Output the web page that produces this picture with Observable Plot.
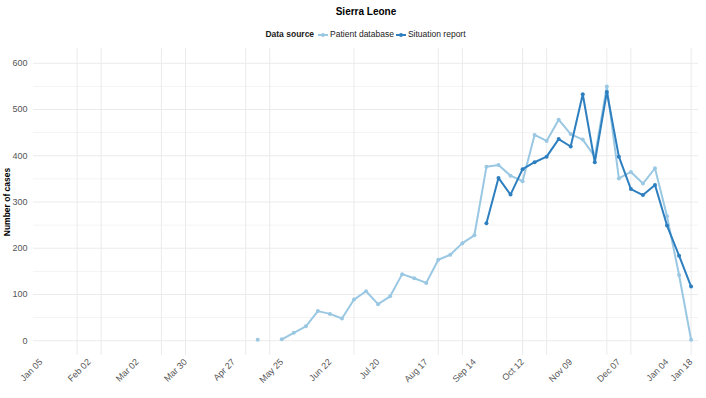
<!DOCTYPE html>
<html>
<head>
<meta charset="utf-8">
<script src="https://cdn.jsdelivr.net/npm/d3@7"></script>
<script src="https://cdn.jsdelivr.net/npm/@observablehq/plot@0.6"></script>
<style>
  html, body { margin: 0; padding: 0; background: #fff; }
  body { width: 706px; height: 398px; overflow: hidden; font-family: "Liberation Sans", Arial, sans-serif; }
  #header { position: relative; width: 706px; height: 44px; }
  #title { position: absolute; left: 0; width: 732px; top: 6px; text-align: center; font-size: 10px; font-weight: bold; color: #000; }
  #legend { position: absolute; left: 0; width: 732px; top: 29px; text-align: center; font-size: 8.5px; color: #1a1a1a; white-space: nowrap; }
  #legend b { font-weight: bold; margin-right: 3px; }
  #legend svg { vertical-align: middle; margin: 0 2px 0 1px; }
  #legend span { margin-right: 1px; }
</style>
</head>
<body>
<div id="header">
  <div id="title">Sierra Leone</div>
  <div id="legend"></div>
</div>
<div id="chart"></div>
<script>
// ---- data ----
const patientDates = ["2014-05-11","2014-05-18","2014-05-25","2014-06-01","2014-06-08","2014-06-15","2014-06-22","2014-06-29",
  "2014-07-06","2014-07-13","2014-07-20","2014-07-27","2014-08-03","2014-08-10","2014-08-17","2014-08-24","2014-08-31",
  "2014-09-07","2014-09-14","2014-09-21","2014-09-28","2014-10-05","2014-10-12","2014-10-19","2014-10-26","2014-11-02",
  "2014-11-09","2014-11-16","2014-11-23","2014-11-30","2014-12-07","2014-12-14","2014-12-21","2014-12-28","2015-01-04",
  "2015-01-11","2015-01-18"];
const patientCases = [2, null, 3, 17, 31, 64, 58, 48,
  89, 107, 79, 96, 144, 135, 125, 175, 186,
  211, 228, 376, 380, 357, 345, 445, 432, 478,
  447, 435, 398, 550, 351, 365, 340, 373, 269,
  142, 2];

const sitrepDates = ["2014-09-21","2014-09-28","2014-10-05","2014-10-12","2014-10-19","2014-10-26","2014-11-02","2014-11-09",
  "2014-11-16","2014-11-23","2014-11-30","2014-12-07","2014-12-14","2014-12-21","2014-12-28","2015-01-04","2015-01-11","2015-01-18"];
const sitrepCases = [254, 352, 316, 371, 386, 398, 436, 420,
  533, 386, 538, 398, 328, 315, 337, 249, 184, 117];

const xTickLabels = ["2014-01-05","2014-02-02","2014-03-02","2014-03-30","2014-04-27","2014-05-25","2014-06-22","2014-07-20",
  "2014-08-17","2014-09-14","2014-10-12","2014-11-09","2014-12-07","2015-01-04","2015-01-18"];
const xGridDates = ["2014-01-26","2014-02-09","2014-03-16","2014-03-30","2014-05-04","2014-05-18","2014-07-06","2014-08-24",
  "2014-09-07","2014-10-12","2014-10-26","2014-11-30","2014-12-14","2015-01-18"];
const yTicks = [0, 100, 200, 300, 400, 500, 600];
const yMinor = [50, 150, 250, 350, 450, 550];

const seriesNames = ["Patient database", "Situation report"];
const seriesColors = ["#9ac8e3", "#2e7fbf"];

// ---- build tables ----
const parse = d3.utcParse("%Y-%m-%d");
const patient = patientDates.map((d, i) => ({date: parse(d), cases: patientCases[i] == null ? NaN : patientCases[i]}));
const sitrep = sitrepDates.map((d, i) => ({date: parse(d), cases: sitrepCases[i]}));
const tickDates = xTickLabels.map(parse);
const gridDates = xGridDates.map(parse);

const day = 864e5;
const xDomain = [new Date(parse("2014-01-05") - 4.36 * day), new Date(+parse("2015-01-18") + 4.3 * day)];

const chart = Plot.plot({
  width: 706,
  height: 354,
  marginLeft: 33,
  marginRight: 8,
  marginTop: 4,
  marginBottom: 43,
  style: {fontFamily: "Liberation Sans, Arial, sans-serif", background: "#fff"},
  x: {type: "utc", domain: xDomain},
  y: {domain: [-32, 632]},
  marks: [
    Plot.ruleY(yMinor, {stroke: "#f4f4f4", strokeWidth: 1}),
    Plot.ruleY(yTicks, {stroke: "#ebebeb", strokeWidth: 1}),
    Plot.ruleX(gridDates, {stroke: "#ebebeb", strokeWidth: 1}),
    Plot.axisY({ticks: yTicks, tickSize: 0, tickPadding: 6, label: null, fontSize: 9, color: "#555"}),
    Plot.axisX({ticks: tickDates, tickFormat: d3.utcFormat("%b %d"), tickRotate: -45, tickSize: 0, tickPadding: 5, label: null, fontSize: 9, color: "#555"}),
    Plot.text([seriesNames[0]], {frameAnchor: "left", textAnchor: "middle", text: () => "Number of cases", rotate: -90, dx: -26, fontWeight: "bold", fontSize: 8.5, fill: "#000"}),
    Plot.line(patient, {x: "date", y: "cases", stroke: seriesColors[0], strokeWidth: 2}),
    Plot.dot(patient.filter(d => !isNaN(d.cases)), {x: "date", y: "cases", r: 2, fill: seriesColors[0]}),
    Plot.line(sitrep, {x: "date", y: "cases", stroke: seriesColors[1], strokeWidth: 2}),
    Plot.dot(sitrep, {x: "date", y: "cases", r: 2, fill: seriesColors[1]})
  ]
});
document.getElementById("chart").appendChild(chart);

// ---- legend ----
const legend = document.getElementById("legend");
let html = "<b>Data source</b>";
seriesNames.forEach((name, i) => {
  html += `<svg width="10" height="8"><line x1="0" x2="10" y1="4" y2="4" stroke="${seriesColors[i]}" stroke-width="2"/><circle cx="5" cy="4" r="2" fill="${seriesColors[i]}"/></svg><span>${name}</span>`;
});
legend.innerHTML = html;
</script>
</body>
</html>
